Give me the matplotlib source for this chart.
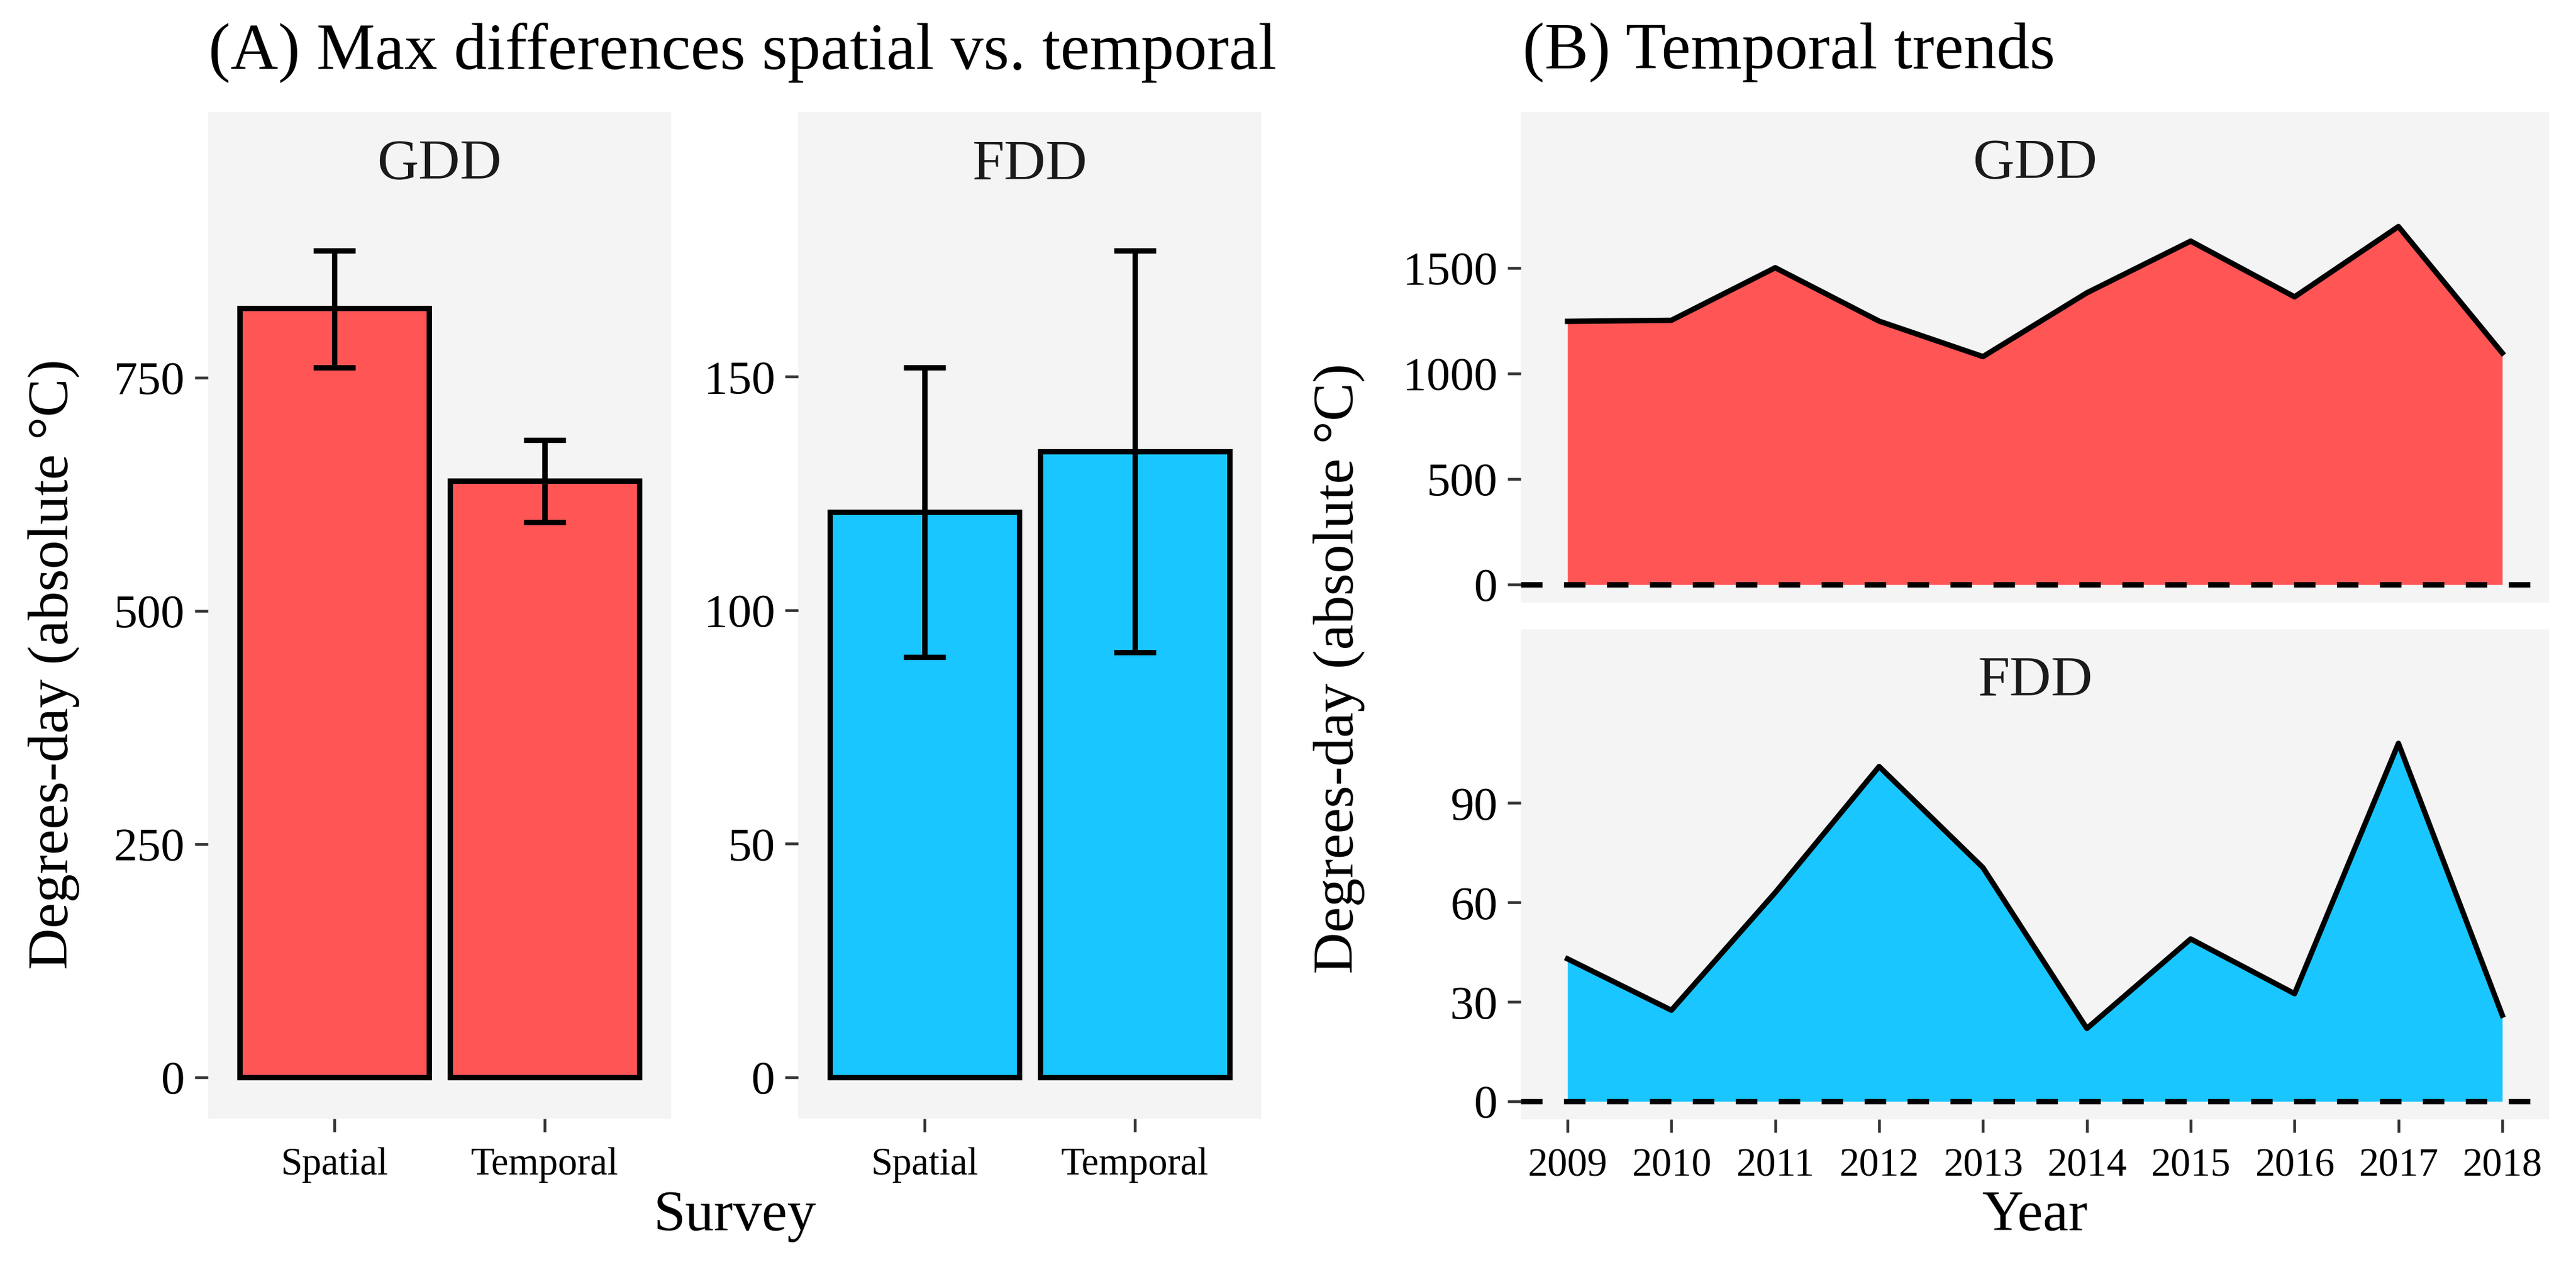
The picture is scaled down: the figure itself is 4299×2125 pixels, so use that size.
import numpy as np
import matplotlib
matplotlib.use('Agg')
import matplotlib.pyplot as plt

plt.rcParams['font.family'] = ['Liberation Serif', 'DejaVu Serif']

# Panel A: max differences, mean with lower/upper bounds
surveys = ['Spatial', 'Temporal']
gdd_mean = [824, 639]
gdd_low = [761, 595]
gdd_high = [886, 683]
fdd_mean = [121, 134]
fdd_low = [90, 91]
fdd_high = [152, 177]

# Panel B: yearly values
years = [2009, 2010, 2011, 2012, 2013, 2014, 2015, 2016, 2017, 2018]
gdd_year = [1247, 1252, 1501, 1248, 1080, 1382, 1627, 1363, 1696, 1097]
fdd_year = [43, 27.5, 63, 101, 70.5, 22, 49, 32.5, 108, 26]

RED = '#FF5555'
BLUE = '#1AC6FF'
PANEL = '#F4F4F4'
LW = 2.15
W, H = 4299, 2125

fig = plt.figure(figsize=(W / 300, H / 300), dpi=300)


def box(x0, x1, ytop, ybot):
    # pixel box (from top-left) -> figure fraction rect
    return [x0 / W, (H - ybot) / H, (x1 - x0) / W, (ybot - ytop) / H]


def strip(x0, x1, ytop, ybot, label):
    s = fig.add_axes(box(x0, x1, ytop, ybot))
    s.set_facecolor(PANEL)
    s.set_xticks([])
    s.set_yticks([])
    for sp in s.spines.values():
        sp.set_visible(False)
    s.text(0.5, 0.45, label, ha='center', va='center', fontsize=23,
           color='#1a1a1a', transform=s.transAxes)


def style(ax):
    ax.set_facecolor(PANEL)
    for sp in ax.spines.values():
        sp.set_visible(False)
    ax.tick_params(axis='both', direction='out', length=5.3, width=1.1,
                   color='#333333')
    ax.tick_params(axis='y', labelsize=19, pad=4)


def bar_panel(x0, x1, mean, low, high, color, ticks, label):
    strip(x0, x1, 187, 349, label)
    ax = fig.add_axes(box(x0, x1, 349, 1866))
    style(ax)
    x = np.arange(len(surveys))
    ax.bar(x, mean, width=0.9, color=color, edgecolor='black', linewidth=LW)
    err = [np.array(mean) - np.array(low), np.array(high) - np.array(mean)]
    ax.errorbar(x, mean, yerr=err, fmt='none', ecolor='black',
                elinewidth=LW, capsize=8.4, capthick=LW)
    top = max(high)
    ax.set_ylim(-0.05 * top, 1.05 * top)
    ax.set_xlim(-0.6, 1.6)
    ax.set_yticks(ticks)
    ax.set_xticks(x)
    ax.set_xticklabels(surveys, fontsize=15.5)
    ax.tick_params(axis='x', pad=6)
    return ax


def area_panel(ytop, ystrip, ybot, vals, color, ticks, label, show_x):
    strip(2538, 4254, ytop, ystrip, label)
    ax = fig.add_axes(box(2538, 4254, ystrip, ybot))
    style(ax)
    ax.fill_between(years, vals, 0, color=color, linewidth=0)
    ax.plot(years, vals, color='black', linewidth=LW)
    ax.axhline(0, color='black', linewidth=LW, linestyle=(0, (4, 4)))
    top = max(vals)
    ax.set_ylim(-0.05 * top, 1.05 * top)
    ax.set_xlim(2008.55, 2018.45)
    ax.set_yticks(ticks)
    ax.set_xticks(years)
    if show_x:
        ax.set_xticklabels([str(y) for y in years], fontsize=16)
        ax.tick_params(axis='x', pad=6)
    else:
        ax.tick_params(axis='x', bottom=False, labelbottom=False)
    return ax


bar_panel(347, 1120, gdd_mean, gdd_low, gdd_high, RED, [0, 250, 500, 750], 'GDD')
bar_panel(1332, 2105, fdd_mean, fdd_low, fdd_high, BLUE, [0, 50, 100, 150], 'FDD')

area_panel(187, 348, 1005, gdd_year, RED, [0, 500, 1000, 1500], 'GDD', False)
area_panel(1050, 1210, 1867, fdd_year, BLUE, [0, 30, 60, 90], 'FDD', True)

# titles and axis labels
fig.text(348 / W, 1 - 88 / H, '(A) Max differences spatial vs. temporal',
         ha='left', va='center', fontsize=26.4)
fig.text(2541 / W, 1 - 88 / H, '(B) Temporal trends',
         ha='left', va='center', fontsize=26.4)
ylab = 'Degrees-day (absolute \u00b0C)'
fig.text(90 / W, 1 - 1108 / H, ylab, rotation=90, ha='center', va='center',
         fontsize=23)
fig.text(2235 / W, 1 - 1115 / H, ylab, rotation=90, ha='center', va='center',
         fontsize=23)
fig.text(1226 / W, 1 - 2029 / H, 'Survey', ha='center', va='center', fontsize=23)
fig.text(3396 / W, 1 - 2029 / H, 'Year', ha='center', va='center', fontsize=23)

fig.savefig('out.png', dpi=300, facecolor='white')
